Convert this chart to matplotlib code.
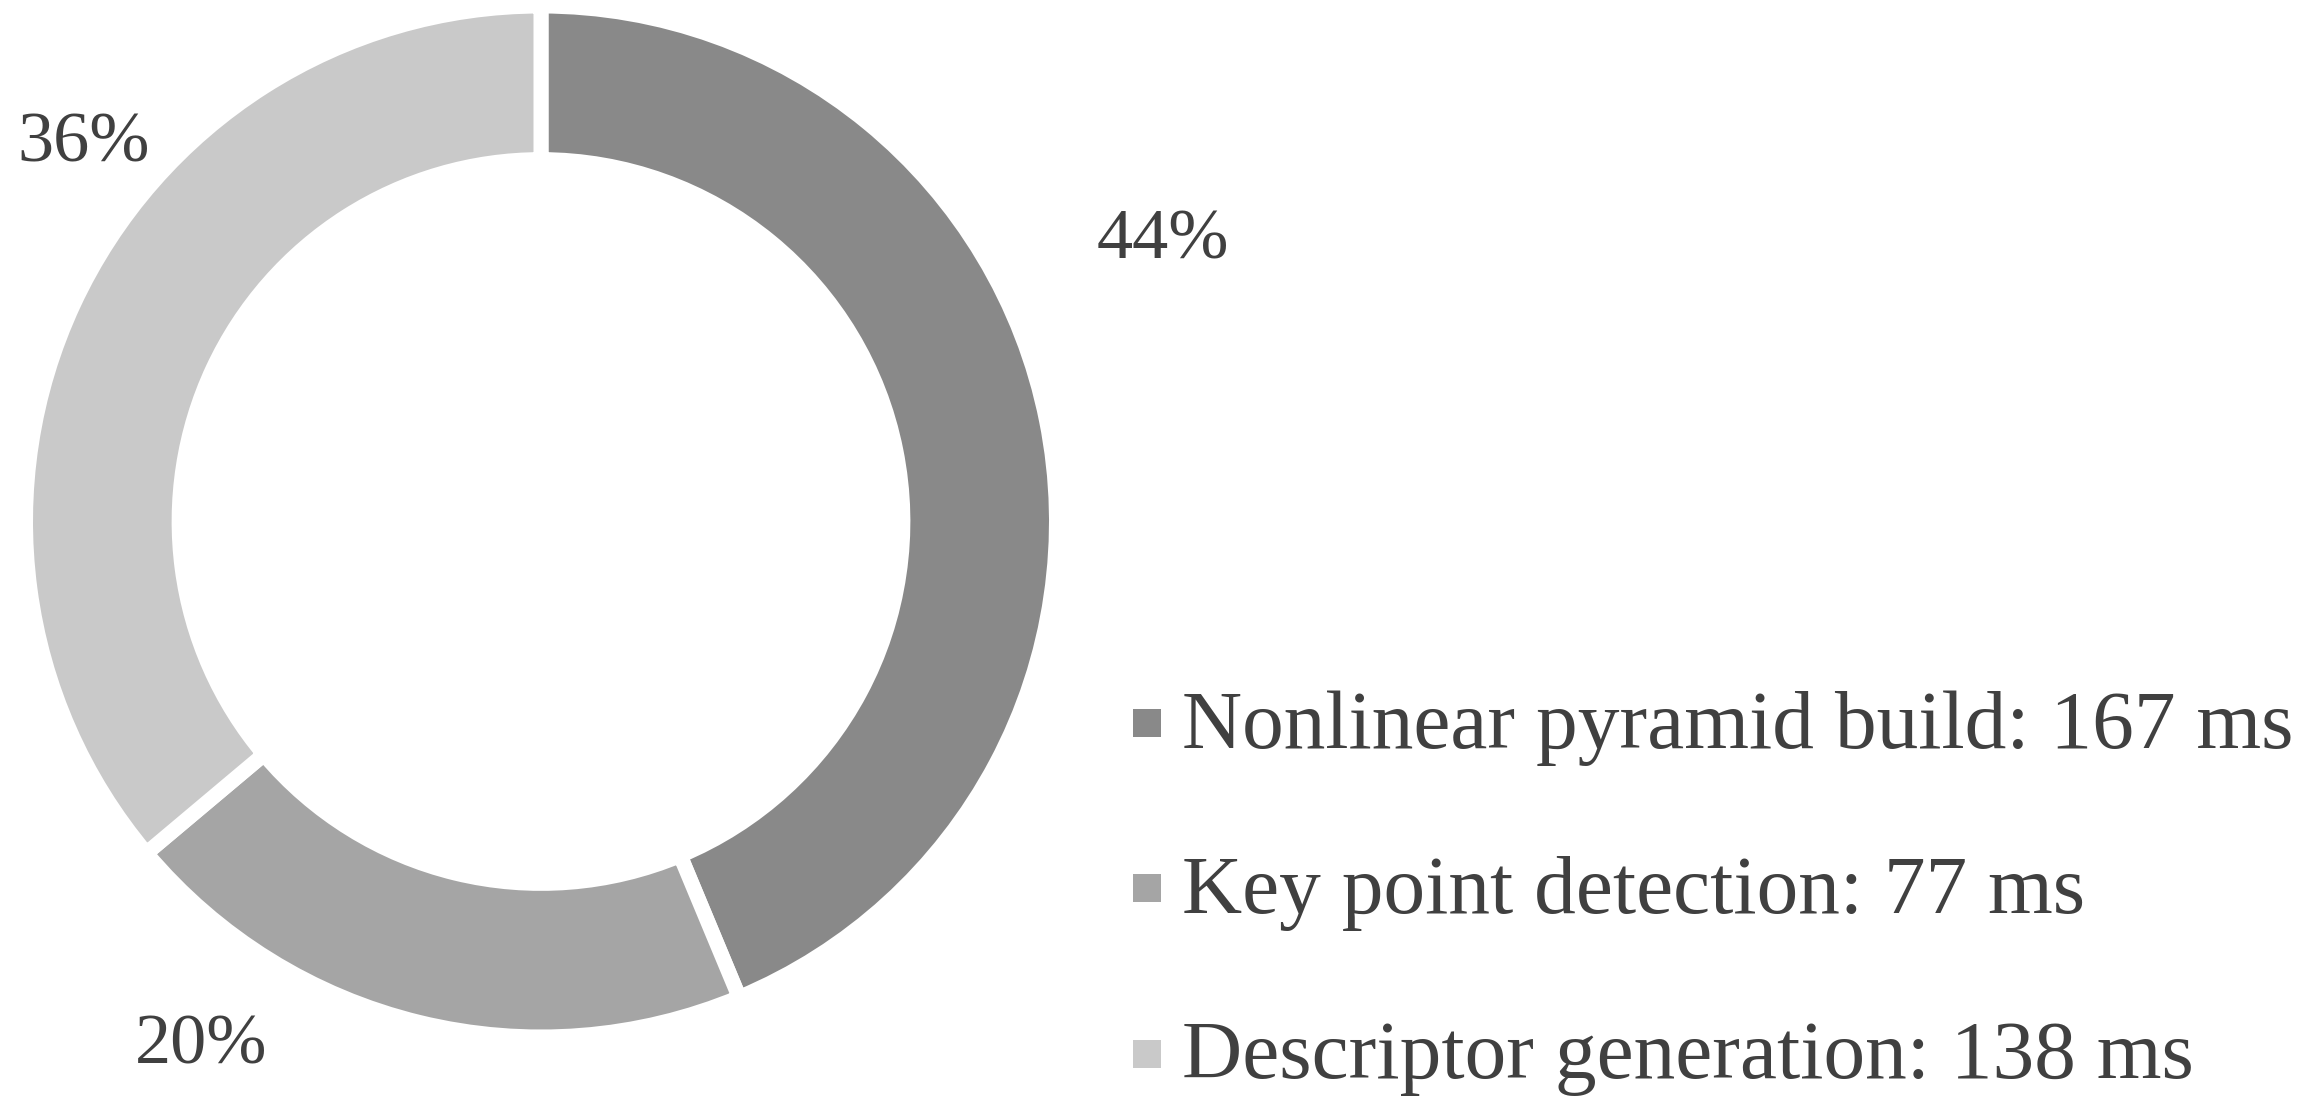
import matplotlib
matplotlib.use("Agg")
import matplotlib.pyplot as plt
from matplotlib.lines import Line2D

# data
stages = ["Nonlinear pyramid build", "Key point detection", "Descriptor generation"]
times_ms = [167, 77, 138]
pct_labels = ["44%", "20%", "36%"]
colors = ["#898989", "#a5a5a5", "#c9c9c9"]

# where the percent labels sit (in pie-radius units)
pct_pos = [(1.207, 0.545), (-0.659, -1.018), (-0.887, 0.732)]

text_color = "#404040"
plt.rcParams["font.family"] = ["Liberation Serif", "DejaVu Serif"]

W, H = 2299, 1108
fig = plt.figure(figsize=(W / 100, H / 100), dpi=100)

# donut centre and drawn radius in pixels
cx, cy, R = 541, 521.5, 515.5
ax = fig.add_axes([(cx - R) / W, (H - cy - R) / H, 2 * R / W, 2 * R / H])

wedges, _ = ax.pie(times_ms, colors=colors, startangle=90, counterclock=False,
                   radius=1.0,
                   wedgeprops=dict(width=0.298, edgecolor="white", linewidth=10.8))
ax.set_xlim(-1, 1)
ax.set_ylim(-1, 1)
ax.set_aspect("equal")
ax.axis("off")

for lab, (x, y) in zip(pct_labels, pct_pos):
    ax.text(x, y, lab, ha="center", va="center", fontsize=52,
            color=text_color, clip_on=False)

# legend
handles = [Line2D([], [], marker="s", linestyle="", markersize=20.2,
                  markerfacecolor=c, markeredgewidth=0) for c in colors]
labels = [f"{s}: {t} ms" for s, t in zip(stages, times_ms)]
leg = fig.legend(handles, labels, loc="upper left",
                 bbox_to_anchor=(1133 / W, 1 - 690 / H),
                 frameon=False, fontsize=60, handlelength=0.34,
                 handleheight=0.34, handletextpad=0.25, labelspacing=1.08,
                 borderpad=0, borderaxespad=0, labelcolor=text_color)

fig.savefig("out.png", dpi=100)
